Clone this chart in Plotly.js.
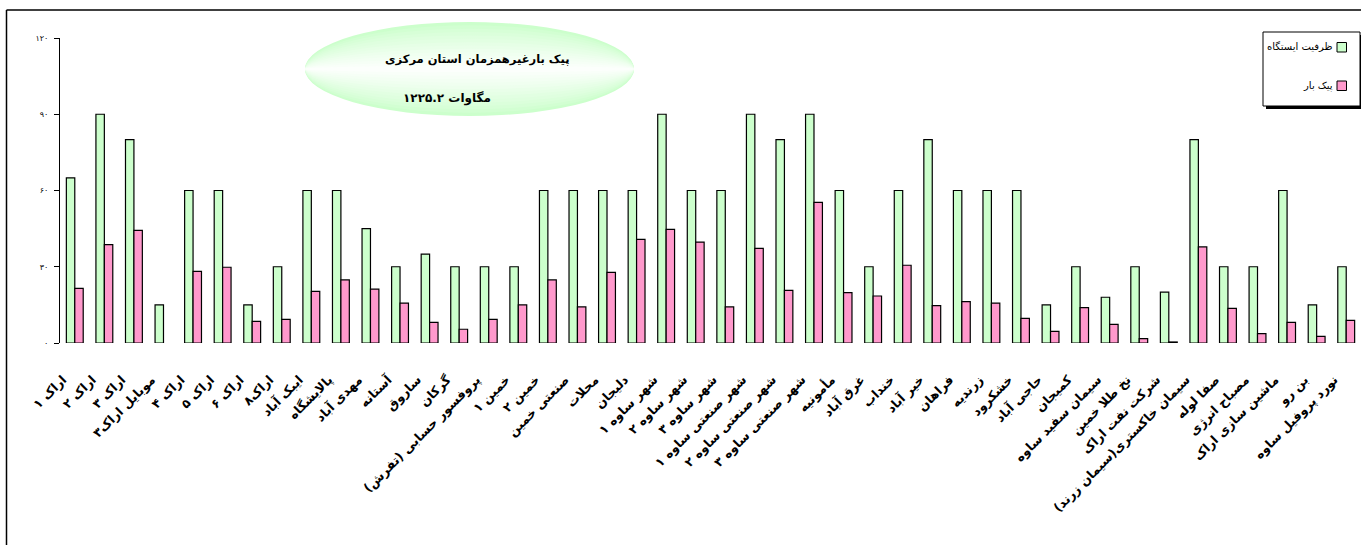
<!DOCTYPE html>
<html>
<head>
<meta charset="utf-8">
<script src="https://cdn.plot.ly/plotly-3.0.1.min.js"></script>
<style>
  html, body { margin: 0; padding: 0; background: #fff; }
  #chart { width: 1361px; height: 545px; }
</style>
</head>
<body>
<div id="chart"></div>
<script>
// ---------- data ----------
const categories = [
  'اراک ۱','اراک ۲','اراک ۳','موبایل اراک۳','اراک ۴','اراک ۵','اراک ۶','اراک۸',
  'ایبک آباد','پالایشگاه','مهدی آباد','آستانه','ساروق','گرکان','پروفسور حسابی (تفرش)',
  'خمین ۱','خمین ۲','صنعتی خمین','محلات','دلیجان',
  'شهر ساوه ۱','شهر ساوه ۲','شهر ساوه ۳',
  'شهر صنعتی ساوه ۱','شهر صنعتی ساوه ۲','شهر صنعتی ساوه ۳',
  'مأمونیه','غرق آباد','خنداب','خیر آباد','فراهان','زرندیه','خشکرود','حاجی آباد',
  'کمیجان','سیمان سفید ساوه','نخ طلا خمین','شرکت نفت اراک','سیمان خاکستری(سیمان زرند)',
  'صفا لوله','مصباح انرژی','ماشین سازی اراک','بن رو','نورد پروفیل ساوه'
];
const capacity = [
  65, 90, 80, 15, 60, 60, 15, 30, 60, 60, 45, 30, 35, 30, 30,
  30, 60, 60, 60, 60, 90, 60, 60, 90, 80, 90, 60, 30, 60, 80,
  60, 60, 60, 15, 30, 18, 30, 20, 80, 30, 30, 60, 15, 30
];
const peakLoad = [
  21.5, 38.7, 44.3, null, 28.2, 29.8, 8.5, 9.3, 20.3, 24.8, 21.2, 15.7, 8.1, 5.4, 9.3,
  15.0, 24.8, 14.2, 27.8, 40.8, 44.7, 39.7, 14.2, 37.2, 20.7, 55.3, 19.8, 18.5, 30.6, 14.7,
  16.3, 15.7, 9.7, 4.6, 13.9, 7.3, 1.7, 0.4, 37.8, 13.6, 3.7, 8.1, 2.6, 8.9
];
const seriesNames = ['ظرفیت ایستگاه', 'پیک بار'];
const yTickVals = [0, 30, 60, 90, 120];
const yTickText = ['۰', '۳۰', '۶۰', '۹۰', '۱۲۰'];
const titleLines = ['پیک بارغیرهمزمان استان مرکزی', 'مگاوات ۱۲۲۵.۲'];

// ---------- layout helpers ----------
const W = 1361, H = 545;
const M = { l: 60, r: 0, t: 38, b: 202 };
const PW = W - M.l - M.r, PH = H - M.t - M.b;
const px = v => (v - M.l) / PW;          // pixel x -> paper x
const py = v => (H - M.b - v) / PH;      // pixel y -> paper y

const greenFill = '#CCFFCC', pinkFill = '#FF99CC';

const traces = [
  { type: 'bar', name: seriesNames[0], x: categories, y: capacity,
    marker: { color: greenFill, line: { color: '#000', width: 1.2 } }, showlegend: false },
  { type: 'bar', name: seriesNames[1], x: categories, y: peakLoad,
    marker: { color: pinkFill, line: { color: '#000', width: 1.2 } }, showlegend: false }
];

const shapes = [];
// chart frame (left and top edges visible)
shapes.push({ type: 'line', xref: 'paper', yref: 'paper', x0: px(6.5), x1: px(6.5), y0: py(10), y1: py(548),
  line: { color: '#000', width: 1.5 } });
shapes.push({ type: 'line', xref: 'paper', yref: 'paper', x0: px(6.5), x1: px(1364), y0: py(10), y1: py(10),
  line: { color: '#000', width: 1.5 } });

// title ellipse with vertical green-white gradient (layered)
const eL = 305, eR = 634, eT = 22, eB = 116;
const eCy = (eT + eB) / 2, eHh = (eB - eT) / 2;
const N = 14;
for (let i = 0; i < N; i++) {
  const f = i / N;
  const hh = eHh * (1 - f);
  const g = Math.round(204 + (255 - 204) * Math.pow(f, 0.8));
  const c = `rgb(${g},255,${g})`;
  shapes.push({ type: 'circle', xref: 'paper', yref: 'paper',
    x0: px(eL), x1: px(eR), y0: py(eCy + hh), y1: py(eCy - hh),
    fillcolor: c, line: { width: 0 }, layer: 'below' });
}

// legend box (custom, symbols at right as in RTL)
shapes.push({ type: 'rect', xref: 'paper', yref: 'paper', x0: px(1266), x1: px(1364), y0: py(109), y1: py(35),
  fillcolor: '#000', line: { width: 0 } });
shapes.push({ type: 'rect', xref: 'paper', yref: 'paper', x0: px(1263), x1: px(1360), y0: py(106), y1: py(32),
  fillcolor: '#fff', line: { color: '#000', width: 1 } });
shapes.push({ type: 'rect', xref: 'paper', yref: 'paper', x0: px(1337), x1: px(1346.5), y0: py(52), y1: py(42.5),
  fillcolor: greenFill, line: { color: '#000', width: 1 } });
shapes.push({ type: 'rect', xref: 'paper', yref: 'paper', x0: px(1337), x1: px(1346.5), y0: py(90.5), y1: py(81),
  fillcolor: pinkFill, line: { color: '#000', width: 1 } });

const annFont = { family: 'DejaVu Sans, sans-serif', color: '#000' };
const annotations = [
  { xref: 'paper', yref: 'paper', x: px(477), y: py(59), text: '<b>' + titleLines[0] + '</b>', showarrow: false,
    xanchor: 'center', yanchor: 'middle', font: Object.assign({ size: 11.5 }, annFont) },
  { xref: 'paper', yref: 'paper', x: px(447), y: py(99), text: '<b>' + titleLines[1] + '</b>', showarrow: false,
    xanchor: 'center', yanchor: 'middle', font: Object.assign({ size: 12 }, annFont) },
  { xref: 'paper', yref: 'paper', x: px(1335), y: py(47), text: seriesNames[0], showarrow: false,
    xanchor: 'right', yanchor: 'middle', font: Object.assign({ size: 10 }, annFont) },
  { xref: 'paper', yref: 'paper', x: px(1335), y: py(86), text: seriesNames[1], showarrow: false,
    xanchor: 'right', yanchor: 'middle', font: Object.assign({ size: 10 }, annFont) }
];

const layout = {
  width: W, height: H,
  margin: M,
  paper_bgcolor: '#fff', plot_bgcolor: 'rgba(0,0,0,0)',
  barmode: 'group', bargap: 0.43, bargroupgap: 0,
  showlegend: false,
  font: { family: 'DejaVu Sans, sans-serif', color: '#000' },
  xaxis: {
    type: 'category', showline: false, showgrid: false, zeroline: false, ticks: '',
    tickangle: -45, tickfont: { size: 12.5, weight: 'bold', family: 'DejaVu Sans, sans-serif', color: '#000' },
    ticklabelstandoff: 26, ticklabelshift: -12, automargin: false
  },
  yaxis: {
    range: [0, 120], tickvals: yTickVals, ticktext: yTickText,
    showline: true, linecolor: '#000', linewidth: 1, ticks: 'outside', ticklen: 5, tickcolor: '#000',
    showgrid: false, zeroline: false, tickfont: { size: 8, color: '#000' }, automargin: false,
    ticklabelstandoff: 4
  },
  shapes: shapes,
  annotations: annotations
};

Plotly.newPlot('chart', traces, layout, { displayModeBar: false, staticPlot: true });
</script>
</body>
</html>
